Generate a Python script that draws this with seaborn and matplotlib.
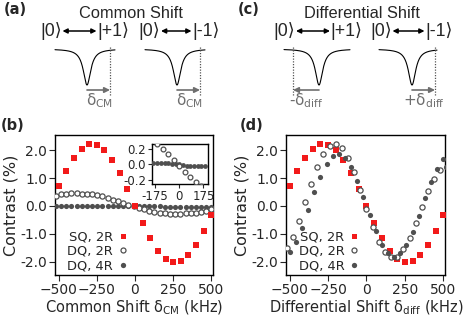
import numpy as np
import pandas as pd
import matplotlib
matplotlib.use("Agg")
import matplotlib.pyplot as plt
from matplotlib.lines import Line2D
import seaborn as sns

# SQ, 2R scan (same in both panels)
sq_x = [-500, -450, -400, -350, -300, -250, -200, -150, -100, -50, 0,
        50, 100, 150, 200, 250, 300, 350, 400, 450, 500]
sq_y = [0.72, 1.27, 1.71, 2.04, 2.21, 2.20, 2.00, 1.65, 1.19, 0.61, 0.00,
        -0.60, -1.16, -1.60, -1.90, -2.03, -1.99, -1.77, -1.41, -0.90, -0.32]

# (b) common shift, DQ scans
cm_x = [-519, -485, -451, -417, -383, -349, -315, -281, -247, -213, -179,
        -145, -111, -77, -43, -9, 25, 59, 93, 127, 161, 195, 229, 263, 297,
        331, 365, 399, 433, 467, 501]
cm_dq2 = [0.37, 0.42, 0.44, 0.45, 0.45, 0.44, 0.43, 0.42, 0.38, 0.35, 0.29,
          0.23, 0.17, 0.11, 0.05, -0.01, -0.06, -0.12, -0.18, -0.23, -0.26,
          -0.27, -0.28, -0.28, -0.28, -0.27, -0.26, -0.24, -0.21, -0.18, -0.10]
cm_dq4 = [0.01, 0.01, 0.01, 0.01, 0.01, 0.01, 0.01, 0.01, 0.01, 0.01, 0.01,
          0.01, 0.00, 0.00, 0.00, 0.00, -0.01, -0.01, -0.01, -0.01, -0.01,
          -0.02, -0.02, -0.02, -0.02, -0.02, -0.02, -0.02, -0.02, -0.02, -0.02]

# inset (zoom of the DQ scans)
ins_dq2_x = [-160, -120, -80, -40, 0, 40, 80, 120, 160]
ins_dq2_y = [0.26, 0.20, 0.13, 0.05, -0.03, -0.10, -0.17, -0.23, -0.28]
ins_dq4_x = [-188, -161, -134, -107, -80, -54, -27, 0, 27, 54, 80, 107, 134, 161, 188]
ins_dq4_y = [0.01, 0.01, 0.01, 0.01, 0.01, 0.00, 0.00, 0.00, -0.01, -0.02,
             -0.02, -0.02, -0.02, -0.02, -0.02]

# (d) differential shift, DQ scans
diff_dq2_x = [-520, -480, -440, -400, -360, -320, -280, -240, -200, -160, -120,
              -80, -40, 0, 40, 80, 120, 160, 200, 240, 280, 320, 360, 400, 440, 480]
diff_dq2_y = [-1.52, -1.12, -0.54, 0.13, 0.79, 1.40, 1.86, 2.16, 2.24, 2.08, 1.72,
              1.22, 0.57, -0.11, -0.74, -1.29, -1.67, -1.84, -1.82, -1.53, -1.14,
              -0.60, -0.04, 0.53, 0.97, 1.28]
diff_dq4_x = [-500, -460, -420, -380, -340, -300, -260, -220, -180, -140, -100,
              -60, -20, 20, 60, 100, 140, 180, 220, 260, 300, 340, 380, 420, 460, 500, 520]
diff_dq4_y = [-1.66, -1.30, -0.78, -0.16, 0.49, 1.05, 1.50, 1.79, 1.86, 1.71, 1.41,
              0.91, 0.31, -0.32, -0.91, -1.40, -1.70, -1.82, -1.70, -1.40, -0.92,
              -0.35, 0.28, 0.86, 1.34, 1.67, 1.41]

series_labels = ["SQ, 2R", "DQ, 2R", "DQ, 4R"]

RED = "#f21a1a"
GRAY = "#4f4f4f"
W, H = 464, 321

sns.set_theme(style="ticks")
plt.rcParams["font.family"] = ["DejaVu Sans"]
plt.rcParams["xtick.direction"] = "out"
plt.rcParams["ytick.direction"] = "out"

fig = plt.figure(figsize=(W / 100, H / 100), dpi=100)


def box(l, t, r, b):
    return [l / W, 1 - b / H, (r - l) / W, (b - t) / H]


def scatter(ax, x, y, kind, s=14):
    df = pd.DataFrame({"x": x, "y": y})
    if kind == "sq":
        sns.scatterplot(data=df, x="x", y="y", ax=ax, marker="s", color=RED,
                        s=s, linewidth=0, zorder=3)
    elif kind == "open":
        sns.scatterplot(data=df, x="x", y="y", ax=ax, marker="o", color=GRAY,
                        s=s, linewidth=0.9, zorder=3)
        coll = ax.collections[-1]
        coll.set_facecolor("white")
        coll.set_edgecolor(GRAY)
    else:
        sns.scatterplot(data=df, x="x", y="y", ax=ax, marker="o", color=GRAY,
                        s=s, linewidth=0, zorder=3)


def style_axes(ax, xlabel):
    ax.set_xlim(-522, 513)
    ax.set_ylim(-2.48, 2.55)
    ax.set_xticks([-500, -250, 0, 250, 500])
    ax.set_yticks([-2, -1, 0, 1, 2])
    ax.set_yticklabels([f"{v:.1f}" for v in [-2, -1, 0, 1, 2]])
    ax.tick_params(labelsize=10, length=4, width=0.8, pad=2)
    ax.set_xlabel(xlabel, fontsize=10.5, labelpad=1)
    ax.set_ylabel("Contrast (%)", fontsize=11.5, labelpad=1)
    for sp in ax.spines.values():
        sp.set_linewidth(1.0)
        sp.set_color("black")
    handles = [
        Line2D([], [], ls="", marker="s", color=RED, markersize=3.6, markeredgewidth=0),
        Line2D([], [], ls="", marker="o", markerfacecolor="white", markeredgecolor=GRAY,
               markersize=3.6, markeredgewidth=0.9),
        Line2D([], [], ls="", marker="o", color=GRAY, markersize=3.8, markeredgewidth=0),
    ]
    ax.legend(handles, series_labels, loc="lower right", bbox_to_anchor=(0.505, -0.045),
              markerfirst=False, frameon=False, fontsize=9.4, handlelength=0.5,
              handletextpad=0.5, labelspacing=0.1, borderpad=0.2)


# ---- (b) common shift ----
ax_b = fig.add_axes(box(55.3, 135, 213.3, 275))
scatter(ax_b, cm_x, cm_dq4, "filled")
scatter(ax_b, cm_x, cm_dq2, "open")
scatter(ax_b, sq_x, sq_y, "sq")
style_axes(ax_b, "Common Shift δ$_{\\rm CM}$ (kHz)")

ax_in = fig.add_axes(box(151.7, 144, 207.7, 184.3))
scatter(ax_in, ins_dq4_x, ins_dq4_y, "filled", s=12)
scatter(ax_in, ins_dq2_x, ins_dq2_y, "open", s=12)
ax_in.set_xlim(-200, 206)
ax_in.set_ylim(-0.26, 0.26)
ax_in.set_xticks([-175, 0, 175])
ax_in.set_yticks([-0.2, 0, 0.2])
ax_in.set_yticklabels(["-0.2", "0.0", "0.2"])
ax_in.set_xticklabels(["-175", "0", "175"])
ax_in.tick_params(labelsize=8.5, length=3, width=0.8, pad=1)
ax_in.set_xlabel("")
ax_in.set_ylabel("")
for sp in ax_in.spines.values():
    sp.set_linewidth(1.0)
    sp.set_color("black")

# ---- (d) differential shift ----
ax_d = fig.add_axes(box(286.3, 135, 445.3, 275))
scatter(ax_d, sq_x, sq_y, "sq")
scatter(ax_d, diff_dq2_x, diff_dq2_y, "open")
scatter(ax_d, diff_dq4_x, diff_dq4_y, "filled")
style_axes(ax_d, "Differential Shift δ$_{\\rm diff}$ (kHz)")

# ---- schematic panels (a) and (c) ----
top = fig.add_axes([0, 0, 1, 1], zorder=-1)
top.set_xlim(0, W)
top.set_ylim(H, 0)
top.axis("off")

ARROW_GRAY = "#6e6e6e"
sans = ["Liberation Sans", "DejaVu Sans"]


def dip(x_left, x_right, x0, label, x_dash, label_x):
    xs = np.linspace(x_left, x_right, 300)
    ys = 49 + 36 * 4.5 ** 2 / ((xs - x0) ** 2 + 4.5 ** 2)
    top.plot(xs, ys, color="black", lw=0.8)
    top.plot([x_dash, x_dash], [47, 95], color="#555555", lw=0.9, ls=(0, (1, 1.2)))
    top.annotate("", xy=(x_dash, 90), xytext=(x0, 90),
                 arrowprops=dict(arrowstyle="-|>", color=ARROW_GRAY, lw=1.2,
                                 mutation_scale=8, shrinkA=0, shrinkB=0))
    top.text(label_x, 101, label, color=ARROW_GRAY, fontsize=11, ha="center", va="center")


def transition(x_a, x_b, right_ket):
    top.text(x_a - 0.5, 31, "|0⟩", family=sans, fontsize=12.8, ha="right", va="center")
    top.text(x_b + 0.5, 31, right_ket, family=sans, fontsize=12.8, ha="left", va="center")
    top.annotate("", xy=(x_b, 31), xytext=(x_a, 31),
                 arrowprops=dict(arrowstyle="<|-|>", color="black", lw=1.1,
                                 mutation_scale=7, shrinkA=0, shrinkB=0))


dip(55, 115, 87, "δ$_{\\rm CM}$", 110, 100)
dip(145, 205, 177, "δ$_{\\rm CM}$", 200, 190)
dip(284, 350, 319, "-δ$_{\\rm diff}$", 293, 306)
dip(379, 437, 412, "+δ$_{\\rm diff}$", 435, 424)

transition(62.5, 96.5, "|+1⟩")
transition(161, 191.5, "|-1⟩")
transition(296, 330, "|+1⟩")
transition(392.5, 424.5, "|-1⟩")

title_font = dict(family=sans, fontsize=11.8, ha="center", va="center")
top.text(131, 13, "Common Shift", **title_font)
top.text(362, 13, "Differential Shift", **title_font)

lab_font = dict(fontsize=10.5, fontweight="bold", ha="center", va="center")
top.text(15, 9, "(a)", **lab_font)
top.text(249, 10, "(c)", **lab_font)
top.text(13, 125, "(b)", **lab_font)
top.text(252, 125, "(d)", **lab_font)

fig.savefig("out.png", dpi=100)
